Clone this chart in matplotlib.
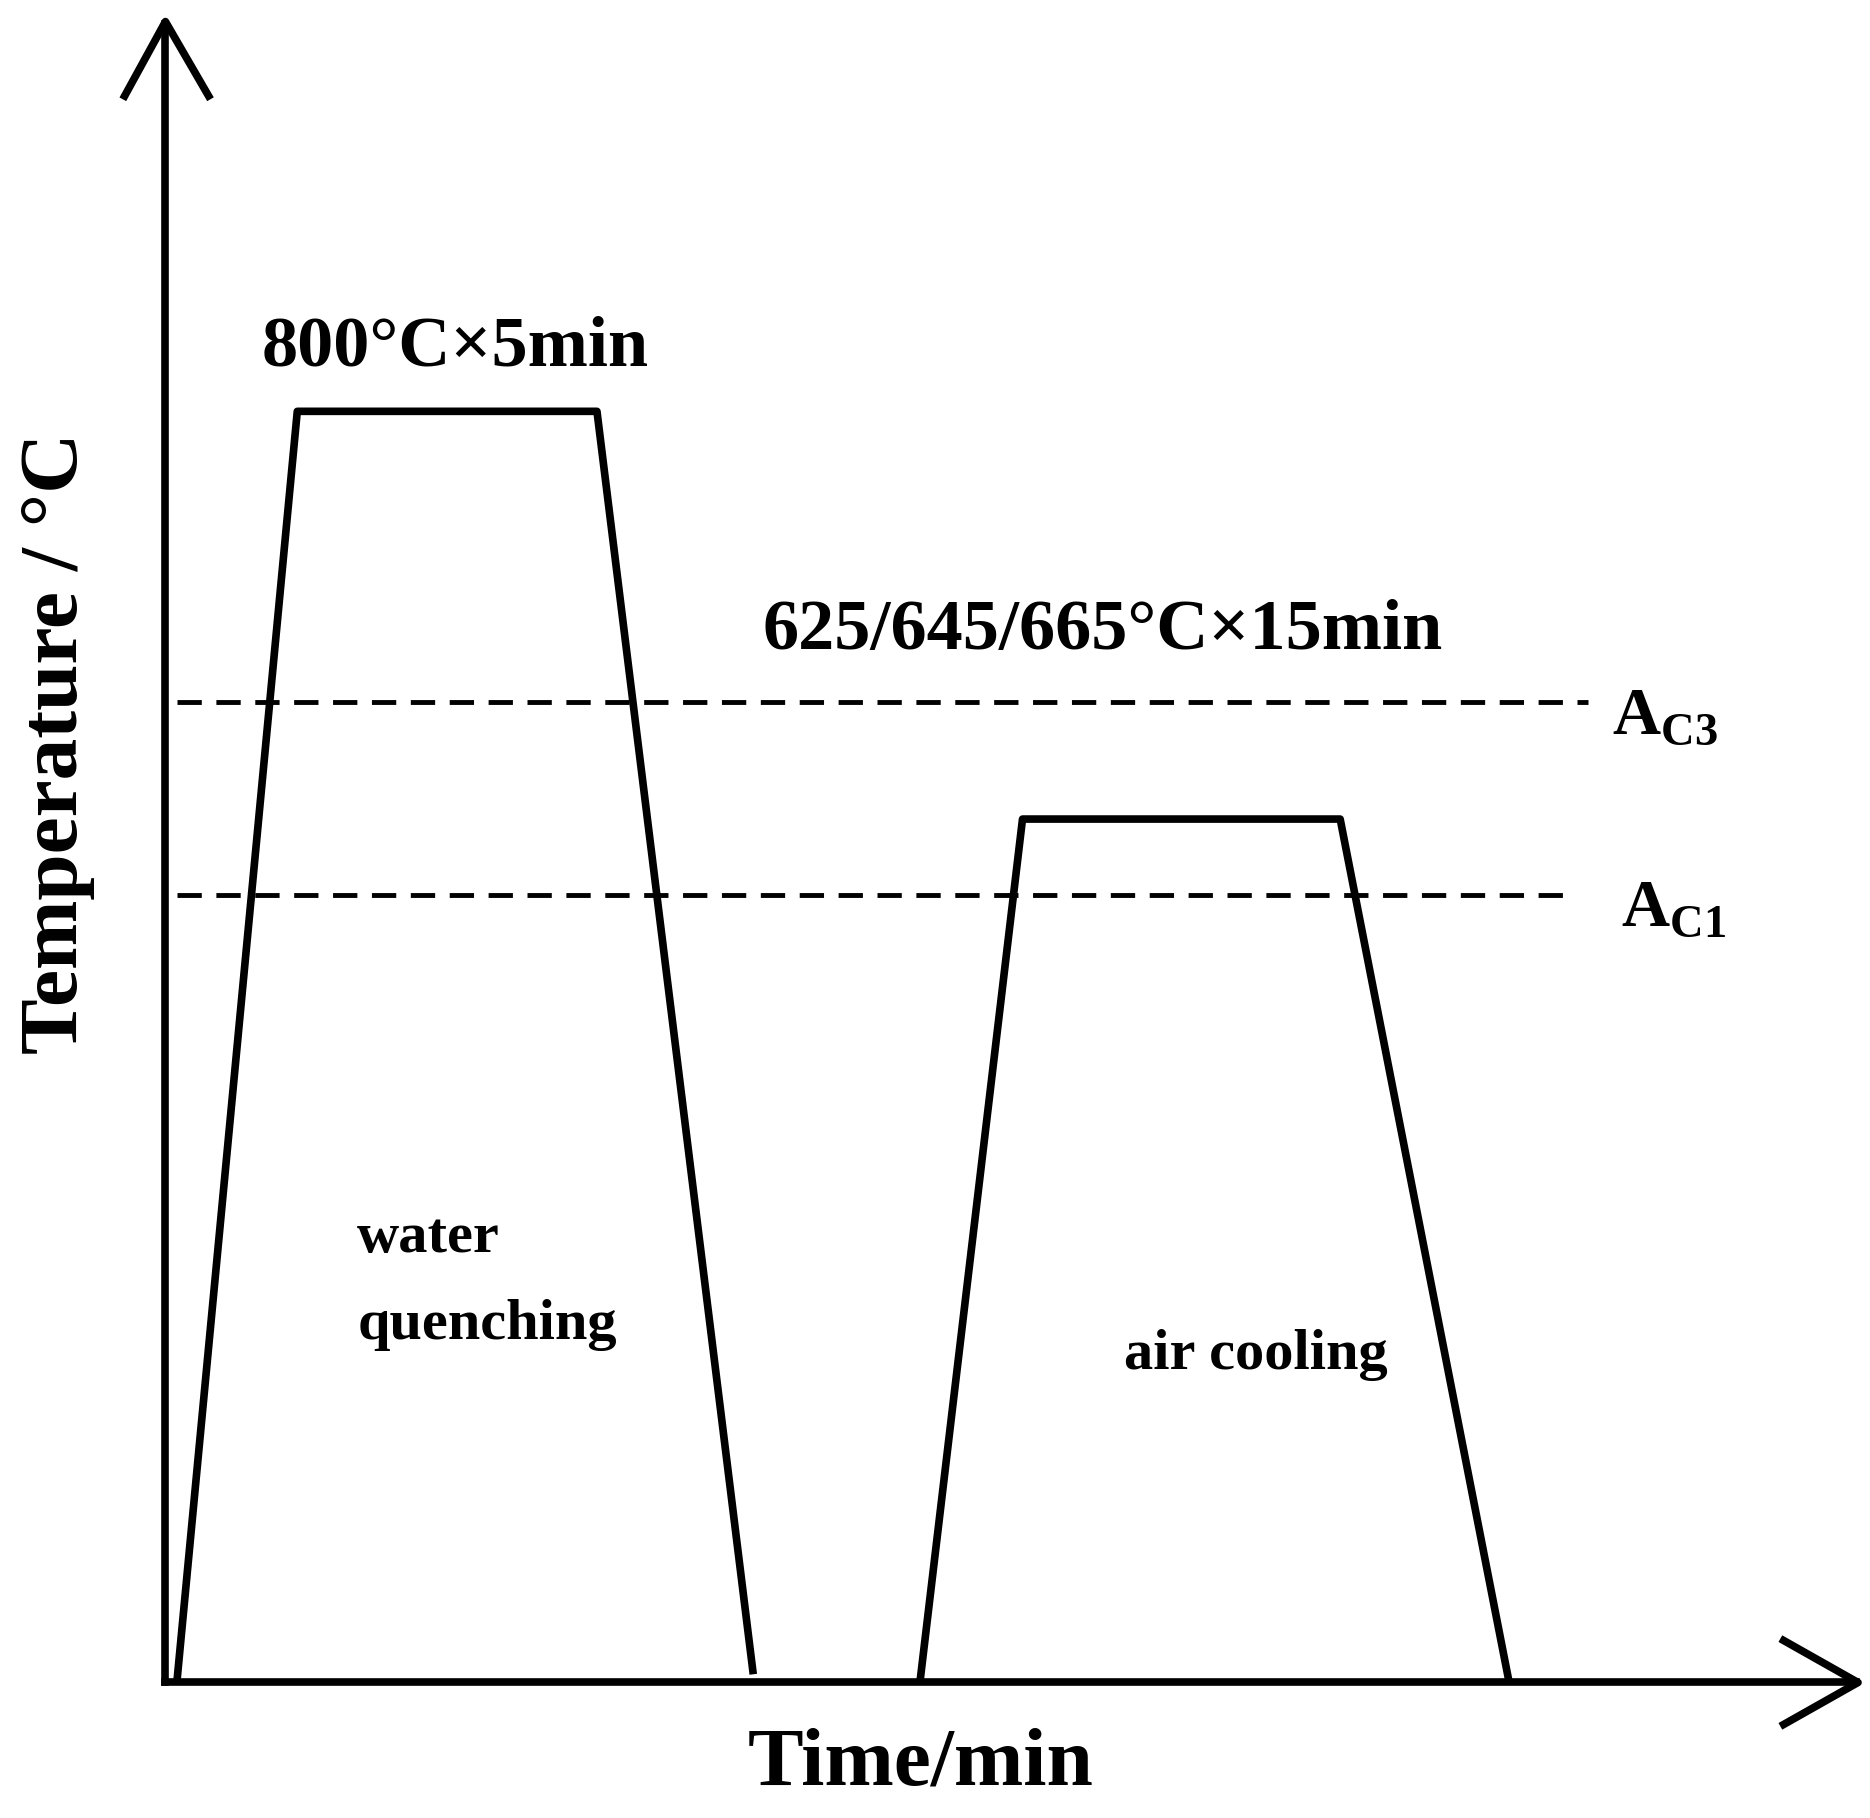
import matplotlib
matplotlib.use('Agg')
import matplotlib.pyplot as plt

# heat treatment schedule, in drawing units (time right, temperature up from origin)
quench_t = [1, 11, 36, 49]
quench_T = [0.5, 106, 106, 1]
temper_t = [63, 71.5, 98, 112]
temper_T = [0.5, 72, 72, 0.5]
ac3 = 81.8
ac1 = 65.7

ORIGIN_X, ORIGIN_Y = 138, 1403  # reference pixel positions (scaled drawing)
UNIT = 10

def px(t):
    return [ORIGIN_X + v * UNIT for v in t]

def py(T):
    return [ORIGIN_Y - v * UNIT for v in T]

plt.rcParams['font.family'] = ['Liberation Serif', 'DejaVu Serif']
fig = plt.figure(figsize=(18.7, 18.18), dpi=100)
ax = fig.add_axes([0, 0, 1, 1])
ax.set_xlim(0, 1560)
ax.set_ylim(1516, 0)
ax.axis('off')

lw = 5.5
# axes with open arrow heads
ax.plot([138, 138], [1403, 20], color='black', lw=lw, solid_capstyle='projecting')
ax.plot([104, 138, 174], [80, 18, 80], color='black', lw=lw)
ax.plot([138, 1548], [1403, 1403], color='black', lw=lw)
ax.plot([1488, 1550, 1488], [1368, 1403, 1438], color='black', lw=lw)

ax.plot(px(quench_t), py(quench_T), color='black', lw=lw)
ax.plot(px(temper_t), py(temper_T), color='black', lw=lw)

ax.plot([148, 1325], py([ac3, ac3]), color='black', lw=3.5, ls=(0, (5, 3)))
ax.plot([148, 1312], py([ac1, ac1]), color='black', lw=3.5, ls=(0, (5, 3)))

bold = dict(fontweight='bold', color='black')
ax.text(380, 290, '800°C×5min', fontsize=52, ha='center', va='center', **bold)
ax.text(920, 527, '625/645/665°C×15min', fontsize=52, ha='center', va='center', **bold)
ax.text(1345, 598, r'A$_{\mathregular{C3}}$', fontsize=48, ha='left', va='center', **bold)
ax.text(1352, 758, r'A$_{\mathregular{C1}}$', fontsize=48, ha='left', va='center', **bold)
ax.text(298, 1032, 'water', fontsize=42, ha='left', va='center', **bold)
ax.text(298, 1105, 'quenching', fontsize=42, ha='left', va='center', **bold)
ax.text(1048, 1130, 'air cooling', fontsize=42, ha='center', va='center', **bold)
ax.text(768, 1472, 'Time/min', fontsize=60, ha='center', va='center', **bold)
ax.text(48, 620, 'Temperature / °C', fontsize=60, ha='center', va='center',
        rotation=90, **bold)

fig.savefig('out.png', dpi=100)
